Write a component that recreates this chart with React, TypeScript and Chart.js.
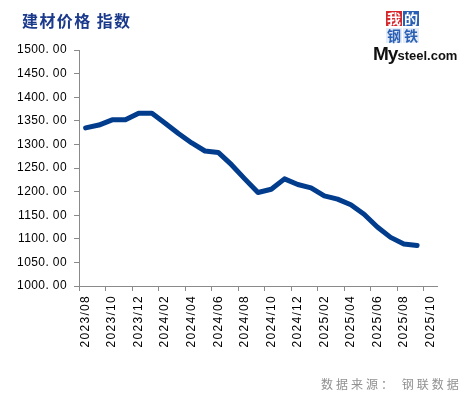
import React, { useEffect, useRef } from "react";
import { Chart, registerables } from "chart.js";

Chart.register(...registerables);

const months: string[] = [
  "2023/08", "2023/09", "2023/10", "2023/11", "2023/12", "2024/01", "2024/02",
  "2024/03", "2024/04", "2024/05", "2024/06", "2024/07", "2024/08", "2024/09",
  "2024/10", "2024/11", "2024/12", "2025/01", "2025/02", "2025/03", "2025/04",
  "2025/05", "2025/06", "2025/07", "2025/08", "2025/09", "2025/10",
];

const indexValues: (number | null)[] = [
  1335, 1341, 1352, 1352, 1366, 1366, 1345, 1323, 1303, 1286, 1283, 1257, 1227,
  1198, 1205, 1227, 1215, 1208, 1191, 1184, 1172, 1152, 1125, 1103, 1089, 1086,
  null,
];

const yMin = 1000;
const yMax = 1500;
const yStep = 50;

const titleText = "建材价格 指数";
const sourceText = "数据来源： 钢联数据";

const spacingPlugin = {
  id: "labelSpacing",
  afterLayout(chart: any) {
    const patch = (scale: any, spacing: string) => {
      if (!scale || scale.__patched) return;
      const orig = scale.drawLabels.bind(scale);
      scale.drawLabels = (area: any) => {
        const c = chart.ctx;
        c.save();
        c.letterSpacing = spacing;
        orig(area);
        c.restore();
      };
      scale.__patched = true;
    };
    patch(chart.scales.x, "1.3px");
    patch(chart.scales.y, "0.4px");
  },
};

export default function App() {
  const canvasRef = useRef<HTMLCanvasElement | null>(null);

  useEffect(() => {
    document.body.style.margin = "0";
    const ctx = canvasRef.current;
    if (!ctx) return;
    const chart = new Chart(ctx, {
      type: "line",
      data: {
        labels: months,
        datasets: [
          {
            data: indexValues,
            borderColor: "#023c8c",
            borderWidth: 5,
            pointRadius: 0,
            tension: 0,
            borderJoinStyle: "round",
            borderCapStyle: "round",
            fill: false,
          },
        ],
      },
      plugins: [spacingPlugin],
      options: {
        responsive: false,
        animation: false,
        layout: { padding: { left: 0, top: 50, right: 28, bottom: 0 } },
        plugins: { legend: { display: false }, tooltip: { enabled: false }, title: { display: false } },
        scales: {
          x: {
            type: "category",
            offset: true,
            afterFit: (s: any) => {
              s.height = 111;
            },
            grid: {
              offset: true,
              drawOnChartArea: false,
              drawTicks: true,
              tickLength: 5,
              color: (c: any) =>
                c.index % 2 === 0 && c.index < months.length ? "#8a8a8a" : "rgba(0,0,0,0)",
            },
            border: { display: true, color: "#8a8a8a", width: 1 },
            ticks: {
              autoSkip: false,
              maxRotation: 90,
              minRotation: 90,
              padding: 4,
              color: "#000",
              font: { family: "'Liberation Sans', Arial, sans-serif", size: 12 },
              callback: (_v: any, i: number) => (i % 2 === 0 ? months[i] : ""),
            },
          },
          y: {
            min: yMin,
            max: yMax,
            afterFit: (s: any) => {
              s.width = 79;
            },
            grid: {
              drawOnChartArea: false,
              drawTicks: true,
              tickLength: 5,
              color: "#8a8a8a",
            },
            border: { display: true, color: "#8a8a8a", width: 1 },
            ticks: {
              stepSize: yStep,
              padding: 7,
              color: "#000",
              font: { family: "'Liberation Sans', Arial, sans-serif", size: 12 },
              callback: (v: any) => Number(v).toFixed(2).replace(".", ". "),
            },
          },
        },
      },
    });
    return () => chart.destroy();
  }, []);

  const box = (bg: string, fg: string): React.CSSProperties => ({
    position: "absolute",
    width: 16,
    height: 15,
    background: bg,
    color: fg,
    fontFamily: "'Noto Sans CJK SC', sans-serif",
    fontWeight: 700,
    fontSize: 14,
    lineHeight: "15px",
    textAlign: "center",
  });

  return (
    <div style={{ position: "fixed", left: 0, top: 0, width: 465, height: 397, background: "#fff", overflow: "hidden" }}>
      <canvas ref={canvasRef} width={465} height={397} style={{ position: "absolute", left: 0, top: 0 }} />
      <div
        style={{
          position: "absolute",
          left: 22,
          top: 8,
          fontFamily: "'Noto Sans CJK SC', sans-serif",
          fontWeight: 700,
          fontSize: 16,
          color: "#1b3a8c",
          whiteSpace: "pre",
          letterSpacing: 1.4,
        }}
      >
        {titleText}
      </div>
      <div
        style={{
          position: "absolute",
          left: 321,
          top: 375,
          fontFamily: "'Noto Sans CJK SC', sans-serif",
          fontSize: 12,
          color: "#909090",
          whiteSpace: "pre",
          letterSpacing: 3,
        }}
      >
        {sourceText}
      </div>
      <div style={{ ...box("#d7262c", "#fff"), left: 386, top: 11 }}>我</div>
      <div style={{ ...box("#2b5fb4", "#fff"), left: 403, top: 11 }}>的</div>
      <div style={{ ...box("#e3ecf8", "#2b5fb4"), left: 386, top: 28 }}>钢</div>
      <div style={{ ...box("#e3ecf8", "#2b5fb4"), left: 403, top: 28 }}>铁</div>
      <div
        style={{
          position: "absolute",
          left: 373,
          top: 44,
          fontFamily: "'Liberation Sans', Arial, sans-serif",
          color: "#111",
          whiteSpace: "pre",
          lineHeight: "20px",
        }}
      >
        <span style={{ fontSize: 19, fontWeight: 700, letterSpacing: -1 }}>My</span>
        <span style={{ fontSize: 13, fontWeight: 700 }}>steel.com</span>
      </div>
    </div>
  );
}
